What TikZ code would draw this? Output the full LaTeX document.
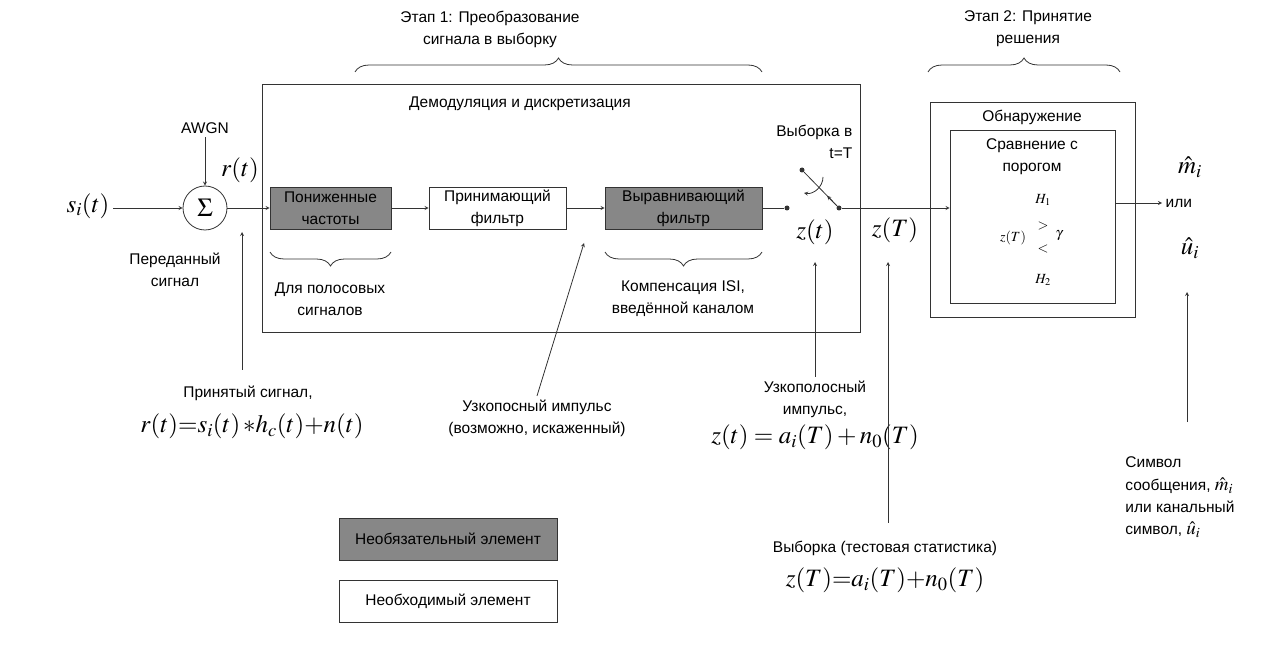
\documentclass[tikz,border=0pt]{standalone}
\usepackage{mathptmx}
\usepackage[no-math]{fontspec}
\setmainfont{Liberation Sans}
\usetikzlibrary{decorations.pathreplacing,calc}
\begin{document}
\begin{tikzpicture}[x=1pt,y=-1pt,>=stealth,line width=0.8pt,color=black!80,
  every node/.style={font=\fontsize{15.5}{22}\selectfont,align=center,text=black},
  blk/.style={draw,minimum height=42pt,inner sep=2pt},
  opt/.style={fill=black!47},
  dot/.style={circle,fill,inner sep=0pt,minimum size=5pt},
  big/.style={font=\fontsize{25}{26}\selectfont},
  sml/.style={font=\fontsize{14}{14}\selectfont},
  brc/.style={decorate,decoration={brace,amplitude=14pt}}]
\useasboundingbox (0,0) rectangle (1286,660);
% stages
\node (st1) at (490,29) {Этап 1: Преобразование\\сигнала в выборку};
\node (st2) at (1028,29) {Этап 2: Принятие\\решения};
\draw[brc] (355,72) -- (762,72);
\draw[brc] (928,72) -- (1120,72);
% demodulation and sampling
\draw (262,84) rectangle (860,332);
\node (dem) at (520,104) {Демодуляция и дискретизация};
\node[circle,draw,minimum size=44pt,inner sep=0pt,font=\fontsize{26}{26}\selectfont] (sum) at (205,208) {$\Sigma$};
\node[big] (s) at (88,206) {$s_i(t)$};
\node (awgn) at (205,128) {AWGN};
\node[big] (r) at (240,170) {$r(t)$};
\node (tx) at (175,270) {Переданный\\сигнал};
\node[blk,opt,minimum width=121pt] (lpf) at (330.5,208) {Пониженные\\частоты};
\node[blk,minimum width=137pt] (rf) at (497.5,208) {Принимающий\\фильтр};
\node[blk,opt,minimum width=157pt] (eq) at (683.5,208) {Выравнивающий\\фильтр};
\draw[->] (s.east |- sum) -- (sum);
\draw[->] (awgn) -- (sum);
\draw[->] (sum) -- (lpf);
\draw[->] (lpf) -- (rf);
\draw[->] (rf) -- (eq);
\draw[brc] (391,252) -- (270,252);
\draw[brc] (762,252) -- (605,252);
\node (bpl) at (330,299) {Для полосовых\\сигналов};
\node (isi) at (683,299) {Компенсация ISI,\\введённой каналом};
% switch
\node[dot] (sa) at (787,208) {};
\node[dot] (sb) at (839,208) {};
\node[dot] (sc) at (802,170) {};
\draw (eq) -- (sa);
\draw (sb) -- (sc);
\draw[->] (sb) -- ($(sb)!0.32!(sc)$);
\draw[->] (823,177) to[bend left=50] (804,193);
\node[align=right,anchor=east] (smp) at (856,142) {Выборка в\\t=T};
\node[big] (zt) at (815,232) {$z(t)$};
\node[big] (zT) at (895,230) {$z(T)$};
% decision
\draw (930,102) rectangle (1135,317);
\node (obn) at (1032,117) {Обнаружение};
\node[draw,minimum width=165pt,minimum height=173pt] (cmp) at (1032.5,216.5) {};
\node (thr) at (1032,157) {Сравнение с\\порогом};
\node[sml] (h1) at (1043,200) {$H_1$};
\node[sml] (gt) at (1043,226) {$>$};
\node[sml] (lt) at (1043,249) {$<$};
\node[sml] (zz) at (1013,238) {$z(T)$};
\node[sml] (gm) at (1059,236) {$\gamma$};
\node[sml] (h2) at (1043,280) {$H_2$};
\draw[->] (sb) -- (sb -| cmp.west);
\node[anchor=west] (ili) at (1162,203) {или};
\node[big,inner sep=0pt] (mh) at (1190,167) {$\hat m_i$};
\node[big,inner sep=0pt] (uh) at (1190,248) {$\hat u_i$};
\draw[->] (cmp.east |- ili) -- (ili.west);
% pointers
\node (rx) at (248,393) {Принятый сигнал,};
\node[big] (rxf) at (252,426) {$r(t){=}s_i(t)\,{*}h_c(t){+}n(t)$};
\coordinate (rxe) at (242,232);
\draw[->,shorten <=12pt] (rx.north -| rxe) -- (rxe);
\node (np) at (537,418) {Узкопосный импульс\\(возможно, искаженный)};
\coordinate (npe) at (584,243);
\draw[->] (np.north) -- (npe);
\node (bp) at (815,399) {Узкополосный\\импульс,};
\node[big] (bpf) at (815,437) {$z(t)=a_i(T)+n_0(T)$};
\coordinate (bpe) at (815,262);
\draw[->] (bp.north) -- (bpe);
\node (ts) at (885,548) {Выборка (тестовая статистика)};
\node[big] (tsf) at (885,580) {$z(T){=}a_i(T){+}n_0(T)$};
\coordinate (tse) at (888,262);
\draw[->,shorten <=14pt] (ts.north -| tse) -- (tse);
\node[anchor=west,inner sep=0pt] (sy1) at (1125,462) {Символ};
\node[anchor=west,inner sep=0pt] (sy2) at (1125,486) {сообщения, {\fontsize{19}{19}\selectfont$\hat m_i$}};
\node[anchor=west,inner sep=0pt] (sy3) at (1125,507) {или канальный};
\node[anchor=west,inner sep=0pt] (sy4) at (1125,530) {символ, {\fontsize{19}{19}\selectfont$\hat u_i$}};
\coordinate (sye) at (1187,292);
\draw[->,shorten <=34pt] (sy1.north -| sye) -- (sye);
% legend
\node[blk,opt,minimum width=218pt] (leg1) at (448,539) {Необязательный элемент};
\node[blk,minimum width=218pt] (leg2) at (448,601) {Необходимый элемент};
\end{tikzpicture}
\end{document}
